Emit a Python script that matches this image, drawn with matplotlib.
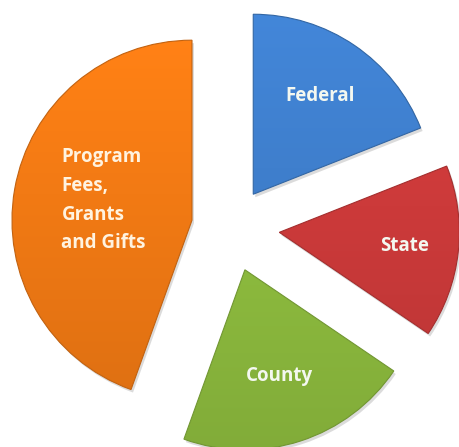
import numpy as np
import matplotlib
matplotlib.use("Agg")
import matplotlib.pyplot as plt
from matplotlib.patches import Wedge
from matplotlib.colors import to_rgb

# Datos del gráfico (porcentajes aproximados)
labels = ["Federal", "State", "County", "Program\nFees,\nGrants\nand Gifts"]
values = [19.0, 15.5, 21.0, 44.5]
colors = ["#3f7fcd", "#cc3a3a", "#8dbb3e", "#f27a14"]
explode_frac = [0.22, 0.27, 0.25, 0.22]

# posición de cada etiqueta como fracción del radio, dentro de su porción
label_frac = [0.66, 0.70, 0.62, 0.55]

W, H = 459, 447
R = 180
center = (231, 220)

fig = plt.figure(figsize=(W / 100, H / 100), dpi=100)
ax = fig.add_axes([0, 0, 1, 1])

# en matplotlib el desplazamiento de explode va en unidades de datos
wedges, _ = ax.pie(values, colors=colors,
                   explode=[e * R for e in explode_frac], startangle=90,
                   counterclock=False, radius=R, center=center, frame=True,
                   wedgeprops=dict(linewidth=0))
ax.set_xlim(0, W)
ax.set_ylim(0, H)
ax.set_aspect("equal")
ax.axis("off")

# sombra suave y degradado para imitar el estilo 3D
yy, xx = np.mgrid[0:1:200j, 0:1:200j]
for w, col in zip(wedges, colors):
    sh = Wedge((w.center[0] + 2, w.center[1] - 3), w.r, w.theta1, w.theta2,
               color="#9a9a9a", alpha=0.35, lw=0, zorder=1)
    ax.add_patch(sh)
    base = np.array(to_rgb(col))
    shade = 1.06 - 0.14 * yy
    img = np.clip(base[None, None, :] * shade[..., None], 0, 1)
    x0, y0 = w.center
    im = ax.imshow(img, extent=(x0 - R, x0 + R, y0 - R, y0 + R),
                   origin="upper", zorder=3, interpolation="bilinear")
    im.set_clip_path(w)
    w.set_facecolor("none")
    w.set_edgecolor(tuple(base * 0.8))
    w.set_linewidth(0.8)
    w.set_zorder(4)

for w, lab, f in zip(wedges, labels, label_frac):
    ang = np.deg2rad((w.theta1 + w.theta2) / 2)
    x = w.center[0] + f * R * np.cos(ang)
    y = w.center[1] + f * R * np.sin(ang)
    if "\n" in lab:
        ax.text(x - 33, y + 3, lab, ha="left", va="center", fontsize=13.5,
                fontweight="bold", family="Open Sans", color="#fff3e0",
                linespacing=1.58, zorder=5)
    else:
        ax.text(x, y, lab, ha="center", va="center", fontsize=13.5,
                fontweight="bold", family="Open Sans", color="#f4f8f0",
                zorder=5)

fig.savefig("out.png", dpi=100, facecolor="white")
